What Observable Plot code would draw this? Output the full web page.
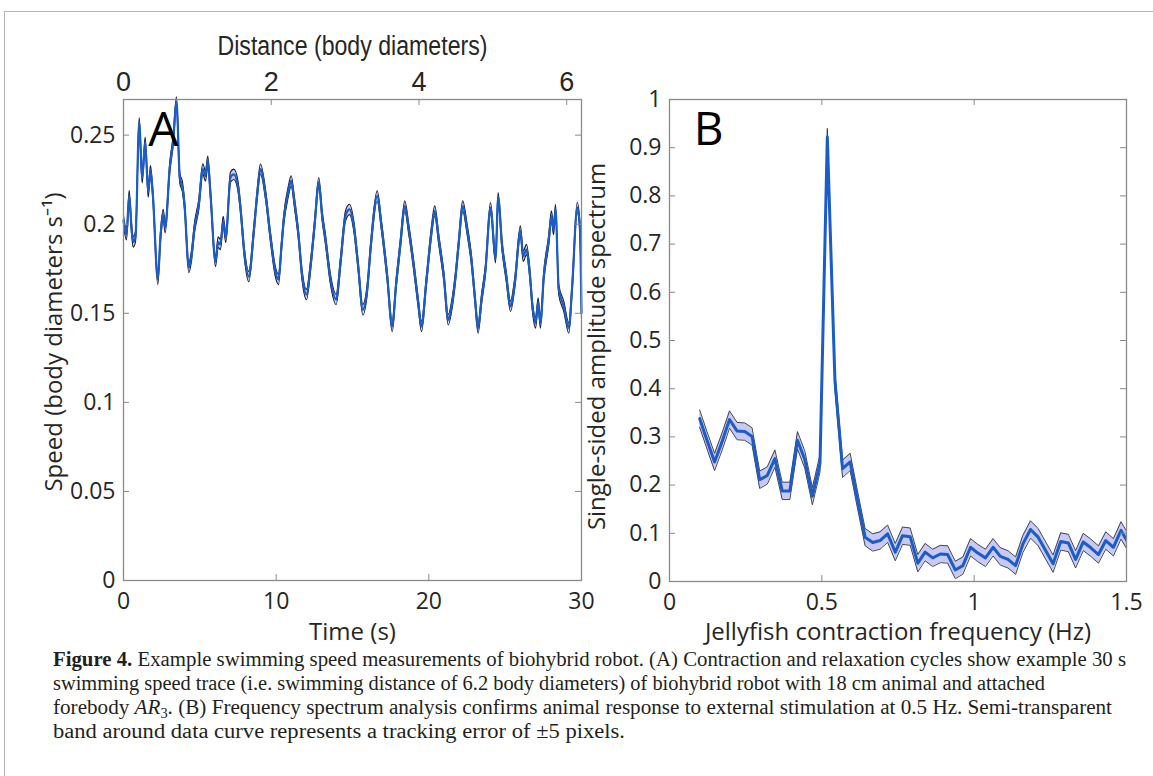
<!DOCTYPE html>
<html><head><meta charset="utf-8">
<script src="https://cdn.jsdelivr.net/npm/d3@7"></script>
<script src="https://cdn.jsdelivr.net/npm/@observablehq/plot@0.6"></script>
<style>
html,body{margin:0;padding:0;background:#fff;}
body{width:1153px;height:776px;position:relative;overflow:hidden;}
#frame{position:absolute;left:4px;top:11px;width:1300px;height:900px;border-left:1.5px solid #b4b4b4;border-top:1.5px solid #b4b4b4;}
#a{position:absolute;left:0;top:0;}
#b{position:absolute;left:560px;top:0;}
#cap{position:absolute;left:0;top:640px;}
svg{overflow:visible;}
</style></head>
<body>
<div id="frame"></div>
<div id="a"></div>
<div id="b"></div>
<div id="cap"></div>
<script>
// ---------- Panel A data: speed trace ----------
const timeA = [0,0.197,0.373,0.524,0.635,0.786,1.028,1.225,1.421,1.618,1.769,1.919,2.247,2.424,2.600,2.731,3.033,3.255,3.472,3.688,3.865,3.996,4.277,4.434,4.651,4.932,5.194,5.371,5.522,5.699,6.026,6.203,6.354,6.530,6.701,7.009,7.225,7.487,7.664,7.926,8.207,8.535,8.758,8.974,9.301,9.629,9.956,10.153,10.349,10.500,10.788,10.985,11.201,11.444,11.706,11.987,12.249,12.511,12.793,13.015,13.231,13.559,13.932,14.214,14.541,14.803,15.085,15.373,15.675,15.963,16.179,16.618,16.899,17.273,17.600,17.862,18.144,18.426,18.688,19.015,19.303,19.519,19.827,20.14,20.39,20.65,20.98,21.27,21.53,21.75,21.96,22.22,22.51,22.79,23.01,23.23,23.45,23.71,24.04,24.37,24.54,24.80,25.07,25.35,25.63,26.00,26.18,26.40,26.59,26.81,26.99,27.16,27.31,27.53,27.86,28.03,28.17,28.30,28.51,28.84,29.17,29.39,29.72,29.89,30.00];
const speedA = [0.202,0.194,0.216,0.198,0.190,0.193,0.257,0.226,0.246,0.218,0.230,0.217,0.169,0.193,0.2055,0.198,0.232,0.247,0.2686,0.226,0.2207,0.211,0.1757,0.181,0.198,0.211,0.231,0.227,0.2354,0.2168,0.179,0.190,0.1886,0.2015,0.1926,0.2264,0.228,0.222,0.209,0.183,0.1706,0.196,0.2168,0.2309,0.2168,0.1926,0.173,0.169,0.1877,0.2027,0.218,0.2243,0.212,0.1954,0.1708,0.1605,0.1764,0.199,0.2233,0.2046,0.1914,0.1689,0.1577,0.1785,0.2046,0.2083,0.199,0.1764,0.152,0.1633,0.1858,0.2158,0.199,0.1708,0.1426,0.167,0.1896,0.2102,0.197,0.1764,0.156,0.1426,0.167,0.1933,0.2074,0.1914,0.1708,0.1464,0.1558,0.1708,0.1896,0.2102,0.197,0.180,0.1595,0.1417,0.1577,0.1745,0.2093,0.1811,0.2149,0.1877,0.1708,0.1539,0.167,0.1962,0.182,0.1858,0.1745,0.152,0.1445,0.1558,0.1445,0.1708,0.1914,0.2046,0.197,0.2083,0.1633,0.1539,0.1417,0.1652,0.2093,0.199,0.150];
const speedErr = 0.0029;           // half-width of tracking-error band
const timeTicks = [0,10,20,30];
const speedTicks = [0,0.05,0.1,0.15,0.2,0.25];
const distTicks = [0,2,4,6];
const totalTime = 30, totalDist = 6.2;

// ---------- Panel B data: amplitude spectrum ----------
const freqB = [0.099,0.123,0.148,0.173,0.197,0.222,0.247,0.271,0.296,0.321,0.346,0.370,0.395,0.420,0.444,0.469,0.494,0.518,0.543,0.568,0.593,0.617,0.642,0.667,0.691,0.716,0.741,0.765,0.790,0.815,0.839,0.864,0.889,0.913,0.938,0.963,0.988,1.012,1.037,1.062,1.086,1.111,1.136,1.160,1.185,1.210,1.235,1.259,1.284,1.309,1.333,1.358,1.383,1.408,1.432,1.457,1.482,1.506];
const ampB = [0.338,0.293,0.248,0.291,0.336,0.312,0.311,0.301,0.211,0.220,0.255,0.188,0.188,0.293,0.253,0.177,0.245,0.922,0.417,0.234,0.248,0.170,0.092,0.081,0.085,0.099,0.061,0.095,0.093,0.038,0.061,0.049,0.057,0.056,0.024,0.033,0.071,0.059,0.049,0.071,0.052,0.046,0.033,0.078,0.108,0.092,0.064,0.037,0.083,0.080,0.046,0.082,0.070,0.056,0.085,0.071,0.106,0.080];
const ampErr = 0.018;
const freqTicks = [0,0.5,1,1.5];
const ampTicks = [0,0.1,0.2,0.3,0.4,0.5,0.6,0.7,0.8,0.9,1];

// ---------- styles ----------
const BLUE = "#1a5cc8", FILL = "#c9c9f6", EDGE = "#34343e", EDGE_A = "#1e1e26", AXIS = "#8a8a8a", TXT = "#262626";
const SANS = "'Open Sans', 'Noto Sans', sans-serif";
const NARROW = "'Liberation Sans Narrow', 'Liberation Sans', sans-serif";
const fmt = d3.format("~g");

const dataA = timeA.map((t, i) => ({t, v: speedA[i], lo: speedA[i] - speedErr, hi: speedA[i] + speedErr}));
const dataB = freqB.map((f, i) => ({f, a: ampB[i], lo: ampB[i] - ampErr, hi: ampB[i] + ampErr}));

// Panel A geometry
const A = {w: 620, h: 650, ml: 123, mr: 39, mt: 99, mb: 70};
const Aw = A.w - A.ml - A.mr, Ah = A.h - A.mt - A.mb;
const curveA = "monotone-x";

const plotA = Plot.plot({
  width: A.w, height: A.h,
  marginLeft: A.ml, marginRight: A.mr, marginTop: A.mt, marginBottom: A.mb,
  style: {background: "none", fontFamily: SANS, fontSize: "23px", color: TXT, overflow: "visible"},
  x: {domain: [0, totalTime]},
  y: {domain: [0, 0.27]},
  marks: [
    Plot.areaY(dataA, {x: "t", y1: "lo", y2: "hi", fill: FILL, curve: curveA}),
    Plot.lineY(dataA, {x: "t", y: "hi", stroke: EDGE_A, strokeWidth: 1.1, curve: curveA}),
    Plot.lineY(dataA, {x: "t", y: "lo", stroke: EDGE_A, strokeWidth: 1.1, curve: curveA}),
    Plot.lineY(dataA, {x: "t", y: "v", stroke: BLUE, strokeWidth: 2.2, curve: curveA}),
    Plot.frame({stroke: AXIS, strokeWidth: 1.3}),
    Plot.ruleX(timeTicks, {x: d => d, insetTop: Ah - 6, stroke: AXIS}),
    Plot.ruleX(distTicks.map(d => d * totalTime / totalDist), {x: d => d, insetBottom: Ah - 6, stroke: AXIS}),
    Plot.ruleY(speedTicks, {y: d => d, insetRight: Aw - 6, stroke: AXIS}),
    Plot.ruleY(speedTicks, {y: d => d, insetLeft: Aw - 6, stroke: AXIS}),
    Plot.axisX({ticks: timeTicks, tickSize: 0, tickPadding: 12, label: null, tickFormat: fmt, fill: TXT}),
    Plot.axisX({anchor: "top", ticks: distTicks.map(d => d * totalTime / totalDist), tickFormat: t => fmt(Math.round(t * totalDist / totalTime)), tickSize: 0, tickPadding: 9, label: null, fontFamily: NARROW, fontSize: 27, fill: TXT}),
    Plot.axisY({ticks: speedTicks, tickSize: 0, tickPadding: 8, label: null, tickFormat: fmt, fill: TXT}),
    Plot.text(["Time (s)"], {frameAnchor: "bottom", dy: 52, text: d => d, fontSize: 24, lineAnchor: "middle", fill: TXT}),
    Plot.text(["Distance (body diameters)"], {frameAnchor: "top", dy: -53, text: d => d, fontSize: 27, fontFamily: NARROW, lineAnchor: "middle", fill: TXT, className: "dist-title"}),
    Plot.text(["Speed (body diameters s⁻¹)"], {frameAnchor: "left", dx: -69, dy: 2, rotate: -90, text: d => d, fontSize: 24, lineAnchor: "middle", textAnchor: "middle", fill: TXT}),
    Plot.text(["A"], {frameAnchor: "top-left", dx: 40, dy: 31, text: d => d, fontSize: 48, lineAnchor: "middle", textAnchor: "middle", fill: "#000"})
  ]
});
document.getElementById("a").appendChild(plotA);
// condense the top-axis title to the narrow width of the original
d3.select(plotA).selectAll("g.dist-title text").attr("textLength", 270).attr("lengthAdjust", "spacingAndGlyphs");

// Panel B geometry
const B = {w: 593, h: 650, ml: 109, mr: 27, mt: 99, mb: 69};
const Bw = B.w - B.ml - B.mr, Bh = B.h - B.mt - B.mb;

const plotB = Plot.plot({
  width: B.w, height: B.h,
  marginLeft: B.ml, marginRight: B.mr, marginTop: B.mt, marginBottom: B.mb,
  style: {background: "none", fontFamily: SANS, fontSize: "23px", color: TXT, overflow: "visible"},
  x: {domain: [0, 1.5]},
  y: {domain: [0, 1]},
  marks: [
    Plot.areaY(dataB, {x: "f", y1: "lo", y2: "hi", fill: FILL, clip: true}),
    Plot.lineY(dataB, {x: "f", y: "hi", stroke: EDGE, strokeWidth: 0.9, clip: true}),
    Plot.lineY(dataB, {x: "f", y: "lo", stroke: EDGE, strokeWidth: 0.9, clip: true}),
    Plot.lineY(dataB, {x: "f", y: "a", stroke: BLUE, strokeWidth: 3, clip: true}),
    Plot.frame({stroke: AXIS, strokeWidth: 1.3}),
    Plot.ruleX(freqTicks, {x: d => d, insetTop: Bh - 6, stroke: AXIS}),
    Plot.ruleX(freqTicks, {x: d => d, insetBottom: Bh - 6, stroke: AXIS}),
    Plot.ruleY(ampTicks, {y: d => d, insetRight: Bw - 6, stroke: AXIS}),
    Plot.ruleY(ampTicks, {y: d => d, insetLeft: Bw - 6, stroke: AXIS}),
    Plot.axisX({ticks: freqTicks, tickSize: 0, tickPadding: 12, label: null, tickFormat: fmt, fill: TXT}),
    Plot.axisY({ticks: ampTicks, tickSize: 0, tickPadding: 8, label: null, tickFormat: fmt, fill: TXT}),
    Plot.text(["Jellyfish contraction frequency (Hz)"], {frameAnchor: "bottom", dy: 51, text: d => d, fontSize: 24, lineAnchor: "middle", fill: TXT}),
    Plot.text(["Single-sided amplitude spectrum"], {frameAnchor: "left", dx: -72, dy: 6, rotate: -90, text: d => d, fontSize: 24, lineAnchor: "middle", textAnchor: "middle", fill: TXT}),
    Plot.text(["B"], {frameAnchor: "top-left", dx: 39, dy: 31, text: d => d, fontSize: 46, lineAnchor: "middle", textAnchor: "middle", fill: "#000"})
  ]
});
document.getElementById("b").appendChild(plotB);

// ---------- caption ----------
const capLines = [
  [{t: "Figure 4.", b: true}, {t: " Example swimming speed measurements of biohybrid robot. (A) Contraction and relaxation cycles show example 30 s"}],
  [{t: "swimming speed trace (i.e. swimming distance of 6.2 body diameters) of biohybrid robot with 18 cm animal and attached"}],
  [{t: "forebody "}, {t: "AR", i: true}, {t: "3", sub: true}, {t: ". (B) Frequency spectrum analysis confirms animal response to external stimulation at 0.5 Hz. Semi-transparent"}],
  [{t: "band around data curve represents a tracking error of ±5 pixels."}]
];
const capWidths = [1073, 992, 1059, 572];
const capSvg = d3.select("#cap").append("svg").attr("width", 1153).attr("height", 130);
capLines.forEach((line, k) => {
  const txt = capSvg.append("text")
    .attr("x", 53).attr("y", 26 + k * 24)
    .attr("font-family", "'Liberation Serif', 'DejaVu Serif', serif")
    .attr("font-size", 20.5).attr("fill", "#231f20")
    .attr("textLength", capWidths[k]).attr("lengthAdjust", "spacingAndGlyphs");
  line.forEach(s => {
    const ts = txt.append("tspan").text(s.t);
    if (s.b) ts.attr("font-weight", "bold");
    if (s.i) ts.attr("font-style", "italic");
    if (s.sub) ts.attr("font-size", 14).attr("dy", 4);
    if (k === 2 && s.t.startsWith(". (B)")) ts.attr("dy", -4);
  });
});
</script>
</body></html>
